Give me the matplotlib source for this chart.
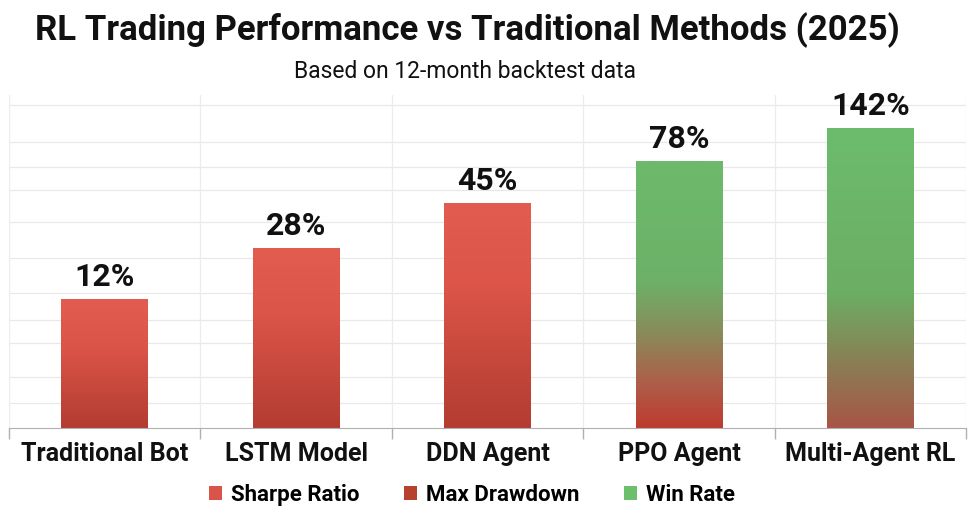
import numpy as np
import matplotlib
matplotlib.use("Agg")
import matplotlib.pyplot as plt
from matplotlib.colors import to_rgb
from matplotlib.patches import Rectangle, Patch

# ---- data ----
categories = ["Traditional Bot", "LSTM Model", "DDN Agent", "PPO Agent", "Multi-Agent RL"]
returns_pct = [12, 28, 45, 78, 142]
# drawn bar heights on the chart's (non-proportional) index scale, 0-100
bar_heights = [38.7, 54.0, 67.6, 80.2, 90.1]
legend_labels = ["Sharpe Ratio", "Max Drawdown", "Win Rate"]

title = "RL Trading Performance vs Traditional Methods (2025)"
subtitle = "Based on 12-month backtest data"

# ---- styles ----
plt.rcParams['font.family'] = ['Roboto', 'DejaVu Sans']
red_stops = [(0.0, "#e25c50"), (0.35, "#dd5549"), (1.0, "#b33c31")]
ppo_stops = [(0.0, "#6dba6c"), (0.45, "#6cb167"), (0.65, "#8a8a5a"), (0.85, "#b05a48"), (1.0, "#bd3b2e")]
multi_stops = [(0.0, "#6dbc6d"), (0.55, "#6cae63"), (0.8, "#8c7b55"), (1.0, "#a85546")]
bar_stops = [red_stops, red_stops, red_stops, ppo_stops, multi_stops]
legend_colors = ["#d9544a", "#b7412f", "#6cbf6c"]


def gradient(stops, n=256):
    pos = np.array([s[0] for s in stops])
    cols = np.array([to_rgb(s[1]) for s in stops])
    t = np.linspace(0, 1, n)
    img = np.stack([np.interp(t, pos, cols[:, k]) for k in range(3)], axis=1)
    return img[:, None, :]  # top -> bottom


fig = plt.figure(figsize=(9.79, 5.16), dpi=100)
fig.patch.set_facecolor("white")
ax = fig.add_axes([0.009, 0.1705, 0.978, 0.645])

x = np.arange(len(categories))
width = 0.45
for i, (xi, h, v) in enumerate(zip(x, bar_heights, returns_pct)):
    rect = Rectangle((xi - width / 2, 0), width, h, facecolor="none", edgecolor="none", zorder=3)
    ax.add_patch(rect)
    im = ax.imshow(gradient(bar_stops[i]), extent=[xi - width / 2, xi + width / 2, 0, h],
                   aspect="auto", zorder=2, interpolation="bilinear")
    im.set_clip_path(rect)
    ax.annotate(f"{v}%", (xi, h), xytext=(0, 5), textcoords="offset points",
                ha="center", va="bottom", fontsize=23, fontweight="bold", color="#111111")

ax.set_xlim(-0.5, len(categories) - 0.5)
ax.set_ylim(0, 100)

# grid
grid_y = [7.5, 15.3, 25.5, 32.4, 40.5, 51, 61.9, 71.5, 78.4, 86, 97]
for gy in grid_y:
    ax.axhline(gy, color="#e8e8e8", lw=0.9, zorder=0)
for gx in np.arange(-0.5, len(categories), 1.0):
    ax.axvline(gx, color="#ececec", lw=0.9, zorder=0)

ax.set_yticks([])
ax.set_xticks(x)
ax.set_xticklabels(categories, fontsize=18, fontweight="bold", color="#111111")
ax.tick_params(axis="x", which="major", length=0, pad=10)
ax.set_xticks(np.arange(-0.5, len(categories), 1.0), minor=True)
ax.tick_params(axis="x", which="minor", length=8, color="#b0b0b0", width=1)
for s in ["top", "right", "left"]:
    ax.spines[s].set_visible(False)
ax.spines["bottom"].set_color("#b0b0b0")

fig.text(0.477, 0.942, title, ha="center", va="center", fontsize=25, fontweight="bold", color="#111111")
fig.text(0.475, 0.862, subtitle, ha="center", va="center", fontsize=16.5, color="#111111")

handles = [Patch(facecolor=c, edgecolor="none", label=l) for c, l in zip(legend_colors, legend_labels)]
fig.legend(handles=handles, loc="center", bbox_to_anchor=(0.482, 0.041), ncol=3, frameon=False,
           handlelength=0.6, handleheight=0.6, handletextpad=0.4, columnspacing=2.0,
           prop={"weight": "bold", "size": 16})

fig.savefig("out.png", dpi=100, facecolor="white")
